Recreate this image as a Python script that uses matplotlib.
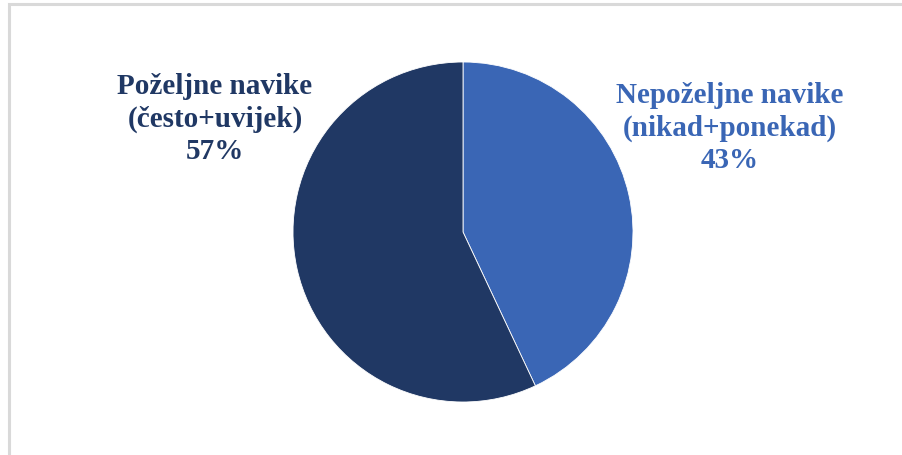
import matplotlib
matplotlib.use("Agg")
import matplotlib.pyplot as plt
from matplotlib.patches import Rectangle

labels = ["Nepoželjne navike\n(nikad+ponekad)", "Poželjne navike\n(često+uvijek)"]
values = [43, 57]
colors = ["#3A66B5", "#203864"]
text_colors = ["#3A66B5", "#203864"]

W, H = 903, 456
fig = plt.figure(figsize=(W / 100, H / 100), dpi=100)
fig.patch.set_facecolor("white")

# border (top and left visible)
fig.patches.append(Rectangle((9 / W, -0.1), 1.2, (H - 5) / H + 0.1, transform=fig.transFigure,
                             fill=False, edgecolor="#D9D9D9", linewidth=2.2, zorder=0))

cx, cy, r = 463, 233, 170
ax = fig.add_axes([(cx - r) / W, (H - cy - r) / H, 2 * r / W, 2 * r / H])
ax.pie(values, colors=colors, startangle=90, counterclock=False, radius=1,
       wedgeprops=dict(edgecolor="white", linewidth=0.6))
ax.set_xlim(-1, 1)
ax.set_ylim(-1, 1)
ax.set_aspect("equal")
ax.axis("off")

font = ["Liberation Serif", "DejaVu Serif"]
positions = [(730, 128), (215, 119)]
for lab, v, tc, (px, py) in zip(labels, values, text_colors, positions):
    fig.text(px / W, (H - py) / H, f"{lab}\n{v}%", ha="center", va="center",
             fontsize=21, fontweight="bold", family=font, color=tc, linespacing=1.26)

fig.savefig("out.png", dpi=100)
